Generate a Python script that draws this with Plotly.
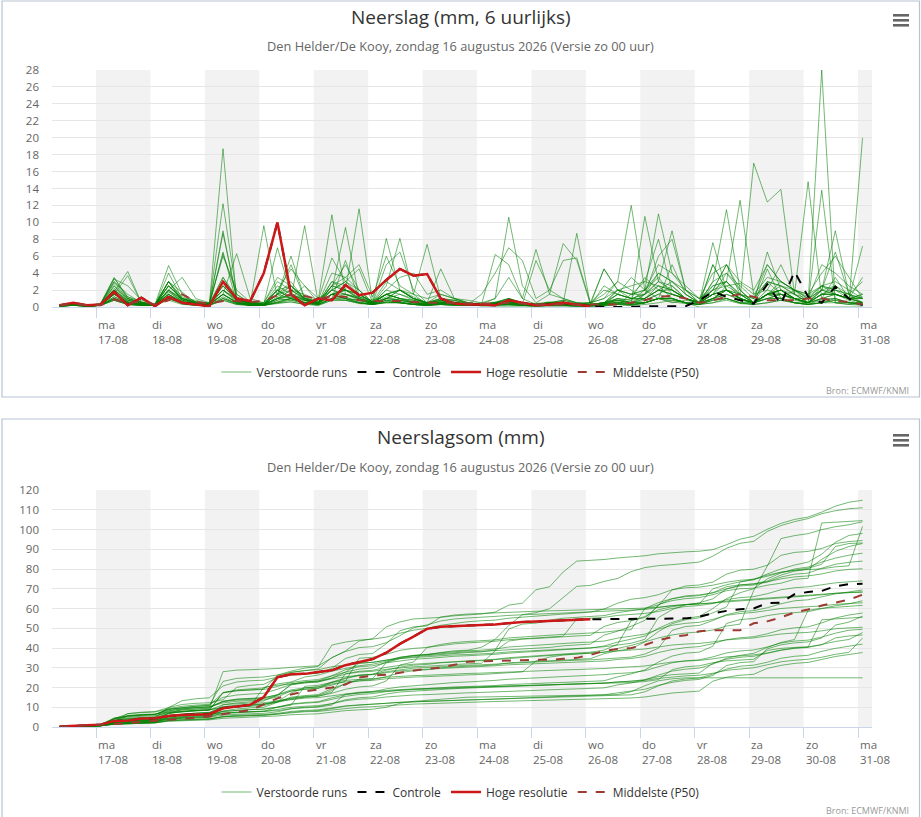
import numpy as np
import pandas as pd
import plotly.graph_objects as go

# 6-uurlijkse tijdstippen (lokale tijd), run van zo 16-08 00 UTC
times = pd.date_range("2026-08-16 08:00", periods=60, freq="6h")

run_01 = [0.1,0.4,0.1, 0.2,2.5,0.8,0.5, 0.2,3.0,0.8,0.4, 0.3,18.7,0.8,0.2, 0.2,0.4,0.6,0.3, 0.5,4.0,3.5,5.0, 1.2,6.0,2.5,1.5, 0.3,0.5,0.8,0.4, 0.5,1.0,3.5,1.0, 6.8,1.5,7.5,5.5, 0.3,0.5,0.8,0.6, 0.5,1.0,0.6,0.4, 0.3,0.8,2.5,2.8, 1.5,3.5,3.0,2.0, 1.2,2.5,3.0,2.0, 1.0]
run_02 = [0.1,0.3,0.2, 0.3,3.4,1.2,0.6, 0.2,2.5,1.0,0.8, 0.4,6.3,1.5,0.5, 0.5,2.0,1.0,2.5, 1.0,2.0,1.5,1.2, 0.8,1.5,2.0,1.0, 0.5,1.0,0.8,0.3, 1.5,4.0,7.0,5.5, 1.0,2.0,5.5,5.8, 0.5,2.0,1.5,3.5, 2.0,1.0,0.5,0.8, 0.5,3.0,4.0,2.5, 1.0,5.0,3.0,2.0, 1.5,2.5,1.5,1.0, 0.5]
run_03 = [0.2,0.3,0.1, 0.2,2.0,0.6,0.3, 0.3,3.0,1.8,0.5, 0.3,3.5,1.0,0.4, 0.3,1.5,5.0,1.0, 0.5,2.0,3.0,4.5, 0.5,1.0,1.5,0.8, 0.5,0.7,0.5,0.3, 0.2,0.4,0.3,0.5, 0.3,0.5,0.8,0.4, 0.5,4.5,2.0,2.5, 3.0,8.0,2.0,1.0, 0.5,1.5,2.0,1.0, 0.3,1.5,1.0,2.0, 0.5,28.0,0.5,0.3, 0.4]
run_04 = [0.1,0.2,0.1, 0.3,1.5,0.8,0.4, 0.2,2.0,0.9,0.6, 0.3,2.5,0.8,0.5, 0.2,1.2,2.5,0.8, 0.5,3.0,2.5,1.5, 0.6,1.5,2.0,1.0, 0.5,1.0,0.5,0.3, 0.2,0.5,1.0,0.4, 0.3,0.5,0.4,0.3, 0.2,2.5,1.5,1.0, 3.5,2.0,1.5,1.0, 0.5,1.0,2.0,1.0, 17.0,12.4,13.9,1.5, 1.0,2.0,1.5,1.0, 1.5]
run_05 = [0.2,0.4,0.1, 0.4,3.0,1.5,0.5, 0.3,2.5,1.0,0.5, 0.5,12.2,1.5,0.4, 0.3,1.0,2.0,1.5, 0.8,10.9,1.5,1.0, 0.5,1.0,2.0,1.5, 1.0,1.5,1.0,0.8, 0.5,0.3,1.0,0.5, 0.3,0.5,0.8,0.5, 0.5,1.5,3.0,2.0, 0.8,1.5,2.5,1.0, 0.3,1.0,1.5,1.0, 0.5,1.5,2.0,1.0, 0.3,0.5,1.0,0.5, 20.0]
run_06 = [0.1,0.3,0.1, 0.2,1.0,0.5,0.3, 0.2,1.8,0.7,0.4, 0.5,2.0,1.0,0.6, 0.3,2.5,1.5,1.0, 0.6,2.0,9.4,1.2, 0.5,1.5,1.0,0.6, 0.4,0.6,0.4,0.3, 0.3,0.5,0.8,0.5, 0.4,0.6,0.5,0.3, 0.5,1.0,3.0,12.0, 2.0,3.5,1.5,1.0, 0.5,7.6,2.0,1.5, 1.0,3.0,2.5,2.0, 1.5,4.0,6.0,3.5, 1.0]
run_07 = [0.2,0.5,0.2, 0.3,2.8,1.0,0.5, 0.3,1.5,0.5,0.4, 0.3,9.0,0.9,0.4, 0.4,7.0,1.5,0.8, 0.5,1.5,1.0,0.8, 0.4,1.2,0.8,0.5, 0.3,0.6,0.4,0.2, 0.3,0.4,0.6,0.3, 0.3,0.4,0.5,0.3, 0.3,0.5,1.0,0.8, 2.0,11.0,4.0,2.5, 1.0,2.0,5.0,2.0, 0.5,1.5,3.0,2.0, 1.0,5.0,4.0,2.5, 1.5]
run_08 = [0.1,0.3,0.1, 0.2,1.8,0.5,0.3, 0.2,2.0,1.0,0.5, 0.3,3.0,0.8,0.3, 0.3,1.0,2.0,0.8, 0.5,2.5,3.5,2.0, 0.5,8.1,2.0,1.0, 0.5,0.8,0.5,0.3, 0.3,1.0,10.6,2.5, 0.5,1.5,1.0,0.5, 0.3,0.5,1.5,1.0, 1.0,2.0,3.0,1.5, 0.5,1.0,2.0,1.5, 0.5,1.5,2.5,1.5, 0.5,2.5,2.0,1.0, 0.6]
run_09 = [0.2,0.3,0.2, 0.3,2.0,0.8,0.4, 0.3,2.5,0.8,0.5, 0.4,2.5,1.0,0.5, 0.5,3.0,2.0,1.0, 0.5,1.5,2.0,11.6, 0.5,1.5,2.0,1.0, 0.5,1.5,1.0,0.5, 0.3,0.5,1.0,0.5, 0.3,0.5,0.5,0.3, 0.3,0.5,0.8,0.5, 10.7,3.0,2.0,1.0, 0.5,1.5,3.0,1.0, 0.5,1.0,1.5,1.0, 0.5,1.0,1.5,0.8, 0.3]
run_10 = [0.1,0.2,0.1, 0.2,1.2,0.6,0.3, 0.2,4.0,1.0,0.5, 0.3,1.5,0.6,0.3, 0.3,2.0,1.0,0.8, 0.4,1.5,2.0,1.2, 0.5,2.5,8.1,1.5, 7.4,1.0,0.8,0.5, 0.3,0.5,0.8,0.5, 0.3,0.5,0.5,8.7, 0.3,0.5,1.0,0.5, 0.5,1.0,1.5,1.0, 0.5,1.0,2.0,1.0, 0.5,1.5,2.0,1.0, 0.5,1.0,1.0,0.5, 0.5]
run_11 = [0.2,0.4,0.1, 0.3,2.5,1.0,0.4, 0.3,3.0,1.0,0.6, 0.4,2.0,0.8,0.4, 0.3,1.5,3.0,0.8, 0.5,3.0,2.0,1.5, 0.5,1.5,1.0,0.8, 0.3,0.5,0.4,0.3, 0.2,0.4,0.5,0.3, 0.2,0.3,0.4,0.2, 0.2,0.4,0.5,0.5, 1.5,3.0,9.0,2.0, 0.5,2.5,3.0,1.5, 0.5,1.5,2.0,1.5, 0.5,1.5,1.5,1.0, 1.0]
run_12 = [0.1,0.3,0.1, 0.2,1.5,0.5,0.3, 0.2,1.5,0.6,0.3, 0.3,2.0,0.6,0.3, 0.2,1.0,1.5,0.6, 0.4,1.5,1.5,1.0, 0.4,1.0,0.8,0.5, 0.3,0.5,0.3,0.2, 0.2,0.3,0.5,0.3, 0.2,0.3,0.3,0.2, 0.2,0.4,2.0,1.5, 2.0,4.0,3.0,1.5, 0.5,3.0,11.5,2.0, 0.5,1.5,1.0,0.5, 0.5,1.5,1.5,1.0, 1.5]
run_13 = [0.2,0.3,0.1, 0.2,1.0,0.5,0.2, 0.2,1.5,0.5,0.3, 0.3,1.5,0.5,0.3, 0.2,1.0,1.2,0.5, 0.3,1.0,1.5,0.8, 0.3,0.8,0.6,0.4, 0.2,0.4,0.3,0.2, 0.2,0.3,0.4,0.2, 0.2,0.2,0.3,0.2, 0.2,0.3,1.5,1.0, 1.5,2.5,2.0,1.0, 0.5,2.0,3.0,1.5, 1.0,3.0,2.5,1.5, 14.8,1.0,0.5,0.5, 0.5]
run_14 = [0.1,0.3,0.1, 0.3,2.0,0.6,0.3, 0.3,2.0,0.6,0.4, 0.3,2.0,0.8,0.4, 9.6,1.0,0.8,0.5, 0.5,1.5,1.0,0.8, 0.4,1.0,0.8,0.5, 0.3,0.5,0.4,0.3, 0.2,0.4,0.5,0.3, 0.2,0.3,0.4,0.2, 0.2,0.3,0.8,0.5, 1.0,2.0,1.5,1.0, 0.5,1.5,2.0,1.0, 0.5,1.5,2.0,1.0, 0.5,2.0,2.5,1.5, 1.0]
run_15 = [0.2,0.4,0.1, 0.2,1.5,0.5,0.3, 0.2,1.0,0.5,0.3, 0.3,1.5,0.5,0.2, 0.3,2.0,1.0,9.6, 0.5,1.5,1.0,0.5, 0.3,0.8,0.5,0.3, 0.2,0.4,0.3,0.2, 0.2,0.3,0.4,0.2, 0.2,0.2,0.3,0.2, 0.2,0.3,0.5,0.3, 0.5,1.0,1.0,0.5, 0.3,0.8,1.0,0.5, 0.5,1.0,1.5,1.0, 0.5,13.8,0.5,0.5, 0.3]
run_16 = [0.1,0.2,0.1, 0.2,1.0,0.4,0.2, 0.2,1.5,0.5,0.3, 0.2,1.2,0.4,0.2, 0.2,0.8,1.5,0.8, 0.3,1.5,2.0,1.0, 0.4,1.5,1.0,0.5, 0.3,0.5,0.4,0.3, 0.2,0.3,0.4,0.2, 0.2,0.2,0.3,0.2, 0.2,0.3,0.6,0.4, 0.8,1.5,1.0,0.5, 0.3,5.0,2.0,1.0, 0.5,1.5,1.5,1.0, 0.5,1.5,1.5,1.0, 3.5]
run_17 = [0.2,0.3,0.1, 0.2,1.2,0.5,0.2, 0.2,1.0,0.5,0.3, 0.2,6.5,0.5,0.2, 0.2,0.8,1.0,0.5, 0.3,1.0,0.8,0.5, 0.3,0.6,0.5,0.3, 0.2,0.4,0.3,0.2, 0.2,0.3,0.3,0.2, 0.2,0.2,0.2,0.2, 0.2,0.3,0.5,0.3, 0.5,1.0,0.8,0.5, 0.3,1.0,1.5,0.8, 0.5,1.5,1.5,0.8, 0.5,1.0,1.5,1.0, 7.2]
run_18 = [0.1,0.2,0.1, 0.2,0.8,0.3,0.2, 0.2,1.2,0.4,0.2, 0.2,1.0,0.4,0.2, 0.2,0.6,1.0,0.5, 0.3,1.0,1.2,0.6, 0.3,0.6,0.5,0.3, 0.2,0.3,0.2,0.2, 0.2,0.2,0.3,0.2, 0.1,0.2,0.2,0.1, 0.2,0.2,0.4,0.3, 1.5,3.0,2.5,1.0, 0.5,2.0,2.5,1.5, 0.5,1.5,2.0,1.0, 0.5,2.0,1.5,1.0, 1.2]
run_19 = [0.1,0.2,0.1, 0.2,1.0,0.4,0.2, 0.2,1.0,0.4,0.2, 0.2,1.0,0.4,0.2, 0.2,0.5,0.8,0.4, 0.2,0.8,0.8,0.5, 0.3,0.5,0.5,0.3, 0.2,0.3,0.2,0.2, 0.2,0.2,0.2,0.2, 0.1,0.2,0.2,0.1, 0.1,0.2,0.3,0.2, 0.5,1.0,1.0,0.5, 0.5,5.0,2.0,1.0, 0.5,3.0,1.5,1.0, 0.5,1.5,1.5,1.0, 1.0]
run_20 = [0.1,0.2,0.1, 0.2,0.8,0.3,0.2, 0.2,0.8,0.3,0.2, 0.2,0.8,0.3,0.2, 0.2,0.5,0.6,0.3, 0.2,0.8,0.8,0.4, 0.3,1.0,2.0,1.0, 0.5,0.8,0.5,0.3, 0.1,0.1,0.1,0.1, 0.1,0.1,0.1,0.1, 0.1,0.1,0.3,1.5, 3.0,2.5,1.0,0.5, 0.0,0.0,0.0,0.0, 0.0,0.0,0.0,0.0, 0.0,0.0,0.0,0.0, 0.0]
run_21 = [0.2,0.4,0.1, 0.4,3.5,1.0,0.5, 0.3,2.0,0.8,0.5, 0.3,3.0,1.0,0.5, 0.3,1.5,2.5,1.0, 0.5,2.5,2.0,1.5, 0.5,2.0,1.5,1.0, 0.4,0.8,0.5,0.3, 0.3,0.5,0.8,0.4, 0.3,0.5,0.6,0.3, 0.3,0.5,2.0,1.5, 2.0,5.0,4.0,2.0, 1.0,2.5,3.0,12.6, 1.5,2.0,1.5,1.0, 1.0,2.0,9.0,1.5, 0.3]
run_22 = [0.2,0.3,0.1, 0.2,1.5,0.6,0.3, 0.2,1.8,0.6,0.3, 0.3,1.5,0.6,0.3, 0.3,1.0,1.5,0.8, 0.4,2.0,1.5,1.0, 0.5,1.5,1.0,0.6, 0.3,0.8,0.5,0.3, 0.3,0.5,0.6,0.3, 0.2,0.4,0.5,0.3, 0.2,0.4,0.6,0.4, 1.0,2.0,2.0,1.0, 0.5,1.5,2.0,1.0, 0.5,1.5,2.0,1.0, 0.5,1.5,2.0,1.5, 0.5]
run_23 = [0.1,0.3,0.1, 0.3,2.0,0.8,0.4, 0.3,2.5,1.0,0.5, 0.3,8.7,1.0,0.4, 0.3,1.5,2.0,1.0, 0.5,2.0,3.0,1.5, 0.5,1.5,1.0,0.8, 0.4,0.6,0.5,0.3, 0.3,0.4,0.6,0.4, 0.3,0.5,0.6,0.3, 0.5,1.0,2.0,1.5, 1.5,4.0,3.0,2.0, 1.0,4.0,5.0,3.0, 2.0,5.0,3.0,2.0, 1.0,2.5,2.0,1.5, 1.0]
run_24 = [0.2,0.5,0.2, 0.3,3.0,1.2,0.6, 0.3,3.0,1.2,0.6, 0.4,3.5,1.2,0.5, 0.4,2.0,2.5,1.2, 0.5,2.5,2.0,1.5, 0.6,3.0,2.0,1.2, 0.5,1.0,0.6,0.4, 0.3,0.6,1.0,0.5, 0.3,0.5,0.6,0.3, 0.3,0.5,1.5,1.0, 1.0,2.5,2.0,1.0, 0.5,1.5,2.0,1.0, 0.5,1.0,1.0,0.5, 0.3,0.5,0.8,0.5, 0.3]
run_25 = [0.2,0.4,0.1, 0.3,2.2,1.0,0.5, 0.3,4.9,1.5,0.6, 0.3,1.5,6.3,1.0, 0.5,3.5,2.5,1.0, 0.8,5.8,3.0,2.0, 0.5,2.0,3.5,4.0, 1.5,2.0,1.0,0.5, 0.3,0.5,0.5,0.3, 0.2,0.3,0.3,0.2, 0.2,0.3,0.4,0.3, 0.5,1.0,1.0,0.5, 0.3,0.5,1.0,0.5, 0.3,0.5,0.8,0.5, 0.3,0.5,0.5,0.3, 0.2]
run_26 = [0.1,0.3,0.1, 0.2,1.5,3.7,0.5, 0.2,1.0,0.6,0.3, 0.2,1.0,0.5,0.3, 0.3,2.0,4.5,2.5, 0.5,1.5,1.0,0.5, 0.3,0.8,0.6,0.3, 0.2,0.4,0.3,0.2, 0.2,0.4,0.6,0.3, 5.5,2.0,1.0,0.5, 0.3,0.5,0.8,0.5, 0.5,1.0,1.0,0.5, 0.3,0.8,1.0,0.5, 0.5,1.0,1.0,0.5, 0.3,0.8,1.0,0.5, 0.3]
run_27 = [0.2,0.3,0.1, 0.2,1.8,4.2,0.5, 0.3,1.5,0.6,0.3, 0.3,2.5,0.8,0.4, 0.3,1.5,6.0,1.0, 0.5,1.5,2.0,1.0, 0.4,1.0,0.8,0.5, 0.3,0.5,0.4,0.3, 0.3,6.2,5.0,1.0, 0.3,0.5,0.5,0.3, 0.3,4.5,2.0,1.0, 1.5,6.0,8.0,2.0, 0.5,1.5,4.0,2.0, 0.5,2.0,5.0,1.5, 0.5,1.5,2.5,1.0, 0.5]
run_28 = [0.1,0.2,0.1, 0.2,1.0,0.3,0.2, 0.2,3.0,0.6,0.2, 0.2,0.8,0.3,0.2, 0.2,0.5,1.0,0.5, 0.3,1.0,5.5,1.0, 0.3,0.6,0.5,0.3, 0.2,0.3,0.2,0.2, 0.2,0.2,0.3,0.2, 0.1,0.2,0.2,0.1, 0.1,0.2,0.3,0.2, 0.5,1.0,5.0,1.5, 0.5,1.5,1.0,0.5, 0.3,4.5,1.0,0.5, 0.3,1.0,3.5,1.0, 0.5]
run_29 = [0.2,0.3,0.1, 0.3,3.3,2.5,0.8, 0.3,2.0,3.5,1.0, 0.5,6.0,2.0,0.6, 0.3,1.5,1.0,0.5, 0.5,2.5,5.0,2.0, 0.5,5.0,6.5,2.0, 0.5,4.5,1.0,0.5, 0.3,0.5,0.3,0.2, 0.1,0.2,0.2,0.1, 0.1,0.2,0.3,0.2, 0.3,0.5,0.8,0.5, 0.3,0.5,0.8,0.4, 0.3,0.5,0.8,0.5, 0.3,0.5,0.8,0.5, 0.3]
run_30 = [0.1,0.2,0.1, 0.2,0.8,0.3,0.2, 0.2,1.0,0.4,0.2, 0.2,1.5,0.5,0.2, 0.2,0.6,1.0,0.5, 0.3,1.0,1.0,0.5, 0.3,0.5,0.5,0.3, 0.2,0.3,0.2,0.2, 0.2,0.3,0.4,0.2, 0.2,0.3,0.3,0.2, 0.2,0.3,1.0,0.8, 1.0,2.0,1.5,1.0, 0.5,2.0,5.0,1.5, 0.5,6.5,2.0,1.0, 0.5,2.0,6.5,1.5, 3.0]

runs_6h = [run_01, run_02, run_03, run_04, run_05, run_06, run_07, run_08,
           run_09, run_10, run_11, run_12, run_13, run_14, run_15, run_16,
           run_17, run_18, run_19, run_20, run_21, run_22, run_23, run_24,
           run_25, run_26, run_27, run_28, run_29, run_30]

# Hoge resolutie (loopt tot wo 26-08 02 uur)
hres_6h = [0.2,0.5,0.2, 0.3,1.8,0.2,1.1, 0.1,1.2,0.5,0.3, 0.1,3.0,1.0,0.7,
           4.0,10.0,1.5,0.2, 1.0,0.8,2.6,1.4, 1.7,3.2,4.5,3.7, 3.9,1.0,0.4,0.3,
           0.3,0.2,0.8,0.5, 0.2,0.3,0.5,0.3, 0.1]
# Controle: gelijk aan hoge resolutie tot 26-08, daarna eigen verloop
control_tail = [0.0,0.0,0.0, 0.1,0.1,0.1,0.1, 0.8,1.8,1.2,0.8, 0.4,2.7,0.3,4.2,
                1.2,0.5,2.4,1.0, 0.2]
control_6h = hres_6h + control_tail

# Middelste (P50) per 6 uur
p50_6h = [0.2,0.4,0.2, 0.2,0.9,0.4,0.7, 0.3,0.8,1.5,0.6, 0.4,0.7,0.7,0.6,
          0.7,1.4,1.4,1.3, 0.9,1.3,1.2,0.8, 0.7,0.7,0.7,0.6, 0.5,0.5,0.5,0.4,
          0.4,0.4,0.5,0.4, 0.3,0.3,0.3,0.3, 0.3,0.3,0.3,0.5, 0.8,1.2,1.3,1.0,
          0.5,0.8,1.2,1.5, 1.2,0.8,0.8,0.8, 1.0,1.0,0.7,0.6, 0.3]
# Middelste (P50) van de neerslagsom
p50_sum = [0.2,0.5,0.7, 0.9,1.5,2.0,2.6, 2.9,3.5,4.2,4.8, 5.3,6.5,7.5,8.5,
           11.5,14.5,16.5,18.0, 19.0,20.0,21.5,25.0, 26.0,26.5,27.5,28.5,
           29.5,30.0,31.5,33.0, 33.2,33.5,33.6,33.8, 34.0,34.0,34.5,35.0,
           36.5,38.5,39.5,40.0, 41.5,44.0,45.5,46.5, 48.5,49.0,49.0,49.0,
           52.5,53.5,55.5,58.0, 59.5,61.5,63.0,64.5, 67.0]

weekdays_nl = ["ma", "di", "wo", "do", "vr", "za", "zo"]
day_ticks = pd.date_range("2026-08-17", "2026-08-31", freq="D")
x_range = [pd.Timestamp("2026-08-16 04:36"), pd.Timestamp("2026-08-31 06:10")]

FONT = "Open Sans"
GREEN = "rgba(0,128,0,0.55)"
RED = "#cc1818"
BROWN = "#9b3b32"

W, H = 921, 817

fig = go.Figure()

panels = [
    dict(x="x", y="y", legend="legend",
         members=runs_6h, hres=hres_6h, ctrl=control_6h, p50=p50_6h),
    dict(x="x2", y="y3", legend="legend2",
         members=[np.cumsum(r) for r in runs_6h], hres=np.cumsum(hres_6h),
         ctrl=np.cumsum(control_6h), p50=p50_sum),
]

for p in panels:
    for k, m in enumerate(p["members"]):
        fig.add_trace(go.Scatter(
            x=times, y=m, xaxis=p["x"], yaxis=p["y"], mode="lines",
            line=dict(color=GREEN, width=1), name="Verstoorde runs",
            legendgroup=p["legend"] + "ens", showlegend=(k == 0),
            legend=p["legend"], hoverinfo="skip"))
    fig.add_trace(go.Scatter(
        x=times, y=p["ctrl"], xaxis=p["x"], yaxis=p["y"], mode="lines",
        line=dict(color="black", width=2, dash="dash"), name="Controle",
        legend=p["legend"]))
    fig.add_trace(go.Scatter(
        x=times[:len(hres_6h)], y=p["hres"], xaxis=p["x"], yaxis=p["y"],
        mode="lines", line=dict(color=RED, width=2.5), name="Hoge resolutie",
        legend=p["legend"]))
    fig.add_trace(go.Scatter(
        x=times, y=p["p50"], xaxis=p["x"], yaxis=p["y"], mode="lines",
        line=dict(color=BROWN, width=2, dash="dash"), name="Middelste (P50)",
        legend=p["legend"]))

# grijze banden op de oneven dagen
shapes = []
for xa, ya in [("x", "y"), ("x2", "y3")]:
    for d in day_ticks[::2]:
        shapes.append(dict(type="rect", xref=xa, yref=ya + " domain",
                           x0=d, x1=min(d + pd.Timedelta(days=1), x_range[1]),
                           y0=0, y1=1, fillcolor="#f2f2f2", line_width=0,
                           layer="below"))

# kaders en menu-knoppen
for top, bottom in [(1, 397), (419, 818)]:
    shapes.append(dict(type="rect", xref="paper", yref="paper",
                       x0=2 / W, x1=919.5 / W, y0=1 - bottom / H, y1=1 - top / H,
                       line=dict(color="#b7c4d2", width=1.2)))
for y0 in [15.3, 435.3]:
    for dy in [0, 5, 10]:
        yy = 1 - (y0 + dy) / H
        shapes.append(dict(type="line", xref="paper", yref="paper",
                           x0=893 / W, x1=909 / W, y0=yy, y1=yy,
                           line=dict(color="#666666", width=2.6)))

annotations = []
titles = ["Neerslag (mm, 6 uurlijks)", "Neerslagsom (mm)"]
subtitle = "Den Helder/De Kooy, zondag 16 augustus 2026 (Versie zo 00 uur)"
for t, ty, sy, cy in zip(titles, [17, 437], [46, 467], [391, 810]):
    annotations.append(dict(text=t, x=0.5, y=1 - ty / H, xref="paper", yref="paper",
                            yanchor="middle", showarrow=False,
                            font=dict(size=19, color="#333333")))
    annotations.append(dict(text=subtitle, x=0.5, y=1 - sy / H, xref="paper",
                            yref="paper", yanchor="middle", showarrow=False,
                            font=dict(size=12.8, color="#666666")))
    annotations.append(dict(text="Bron: ECMWF/KNMI", x=911 / W, y=1 - cy / H,
                            xref="paper", yref="paper", xanchor="right",
                            yanchor="middle", showarrow=False,
                            font=dict(size=9, color="#999999")))

for xa, ya in [("x", "y"), ("x2", "y3")]:
    for d in day_ticks:
        annotations.append(dict(
            text=f"{weekdays_nl[d.weekday()]}<br>{d.strftime('%d-%m')}",
            x=d, y=-0.035, xref=xa, yref=ya + " domain", xanchor="left",
            yanchor="top", align="left", showarrow=False,
            font=dict(size=11.5, color="#666666")))

xdom = [52 / W, 872 / W]
top_dom = [1 - 307 / H, 1 - 70 / H]
bot_dom = [1 - 727 / H, 1 - 490 / H]

xcommon = dict(type="date", range=x_range, showgrid=False, showline=True,
               linecolor="#ccd6eb", ticks="outside", ticklen=10,
               tickcolor="#ccd6eb", tickvals=day_ticks, showticklabels=False,
               zeroline=False, fixedrange=True, automargin=False)
ycommon = dict(zeroline=False, automargin=False,
               tickfont=dict(size=11.5, color="#666666"), fixedrange=True)

fig.update_layout(
    width=W, height=H,
    margin=dict(l=0, r=0, t=0, b=0, autoexpand=False),
    paper_bgcolor="white", plot_bgcolor="white",
    font=dict(family=FONT, color="#333333"),
    showlegend=True,
    xaxis=dict(domain=xdom, anchor="y", **xcommon),
    xaxis2=dict(domain=xdom, anchor="y3", **xcommon),
    yaxis=dict(domain=top_dom, anchor="x", range=[0, 28], dtick=2,
               showgrid=True, gridcolor="#e6e6e6", ticklabelstandoff=12,
               **ycommon),
    yaxis2=dict(domain=top_dom, anchor="x", overlaying="y", side="right",
                range=[0, 28], dtick=2, showgrid=False, ticklabelstandoff=15,
                **ycommon),
    yaxis3=dict(domain=bot_dom, anchor="x2", range=[0, 120], dtick=10,
                showgrid=True, gridcolor="#e6e6e6", ticklabelstandoff=12,
                **ycommon),
    yaxis4=dict(domain=bot_dom, anchor="x2", overlaying="y3", side="right",
                range=[0, 120], dtick=10, showgrid=False, ticklabelstandoff=15,
                **ycommon),
    legend=dict(orientation="h", x=0.5, xanchor="center", y=1 - 372 / H,
                yanchor="middle", font=dict(size=12, color="#333333"),
                bgcolor="rgba(0,0,0,0)"),
    legend2=dict(orientation="h", x=0.5, xanchor="center", y=1 - 792 / H,
                 yanchor="middle", font=dict(size=12, color="#333333"),
                 bgcolor="rgba(0,0,0,0)"),
    shapes=shapes,
    annotations=annotations,
)

fig.write_html("out.html", config={"displayModeBar": False},
               post_script="document.body.style.margin='0';")
